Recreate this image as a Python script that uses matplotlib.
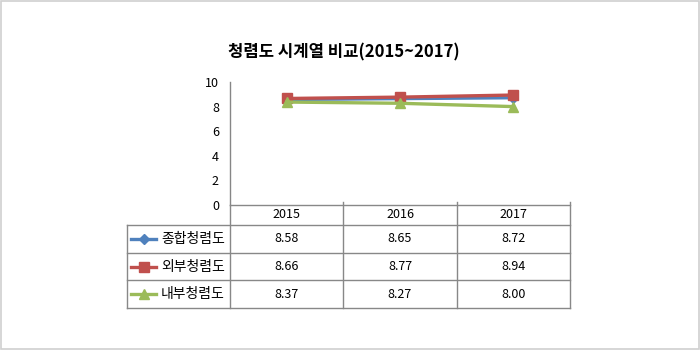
import matplotlib.pyplot as plt

plt.rcParams['font.family'] = ['Noto Sans CJK KR', 'DejaVu Sans']

# data
years = ['2015', '2016', '2017']
series_names = ['종합청렴도', '외부청렴도', '내부청렴도']
total = [8.58, 8.65, 8.72]
external = [8.66, 8.77, 8.94]
internal = [8.37, 8.27, 8.00]
series_values = [total, external, internal]

colors = ['#4F81BD', '#C0504D', '#9BBB59']
markers = ['D', 's', '^']
msizes = [5, 7, 7.5]

W, H = 700, 350
fig = plt.figure(figsize=(W / 100, H / 100), dpi=100)

# pixel layout of plot area and table
left, right = 230, 570
top, bottom = 82, 205
tbl_left = 127
row_edges = [205, 225, 253, 280, 308]

ax = fig.add_axes([left / W, 1 - bottom / H, (right - left) / W, (bottom - top) / H])
x = list(range(len(years)))
for vals, c, m, ms in zip(series_values, colors, markers, msizes):
    ax.plot(x, vals, color=c, lw=2.4, marker=m, ms=ms, mfc=c, mec=c, zorder=3)

ax.set_xlim(-0.5, len(years) - 0.5)
ax.set_ylim(0, 10)
ax.set_yticks(range(0, 11, 2))
ax.set_xticks([])
ax.tick_params(axis='y', length=0, pad=8, labelsize=9)
for s in ['top', 'right', 'bottom']:
    ax.spines[s].set_visible(False)
ax.spines['left'].set_color('#868686')
ax.spines['left'].set_linewidth(1)

# overlay in pixel coordinates for the data table
ov = fig.add_axes([0, 0, 1, 1], zorder=5)
ov.set_xlim(0, W)
ov.set_ylim(H, 0)
ov.axis('off')
ov.patch.set_alpha(0)

grid = '#888888'
col_w = (right - left) / len(years)
col_edges = [left + i * col_w for i in range(len(years) + 1)]

# horizontal lines
ov.plot([left, right], [row_edges[0]] * 2, color=grid, lw=1)
for yy in row_edges[1:]:
    ov.plot([tbl_left, right], [yy, yy], color=grid, lw=1)
# vertical lines
ov.plot([tbl_left, tbl_left], [row_edges[1], row_edges[-1]], color=grid, lw=1)
for xx in col_edges:
    ov.plot([xx, xx], [row_edges[0] - 3 if xx != left else row_edges[0], row_edges[-1]], color=grid, lw=1)

# header
for i, yr in enumerate(years):
    cx = (col_edges[i] + col_edges[i + 1]) / 2
    ov.text(cx, (row_edges[0] + row_edges[1]) / 2, yr, ha='center', va='center', fontsize=9)

# rows
for r, (name, vals, c, m, ms) in enumerate(zip(series_names, series_values, colors, markers, msizes)):
    cy = (row_edges[r + 1] + row_edges[r + 2]) / 2
    ov.plot([131, 156], [cy, cy], color=c, lw=2.4)
    ov.plot([143.5], [cy], marker=m, ms=ms, color=c, mec=c)
    ov.text(161, cy, name, ha='left', va='center', fontsize=10)
    for i, v in enumerate(vals):
        cx = (col_edges[i] + col_edges[i + 1]) / 2
        ov.text(cx, cy, f'{v:.2f}', ha='center', va='center', fontsize=9)

# title
fig.text(344 / W, 1 - 52 / H, '청렴도 시계열 비교(2015~2017)', ha='center', va='center',
         fontsize=12, fontweight='bold')

# outer frame
ov.add_patch(plt.Rectangle((0.5, 0.5), W - 1.5, H - 1.5, fill=False, ec='#d0d0d0', lw=1.2))

fig.savefig('out.png', dpi=100)
